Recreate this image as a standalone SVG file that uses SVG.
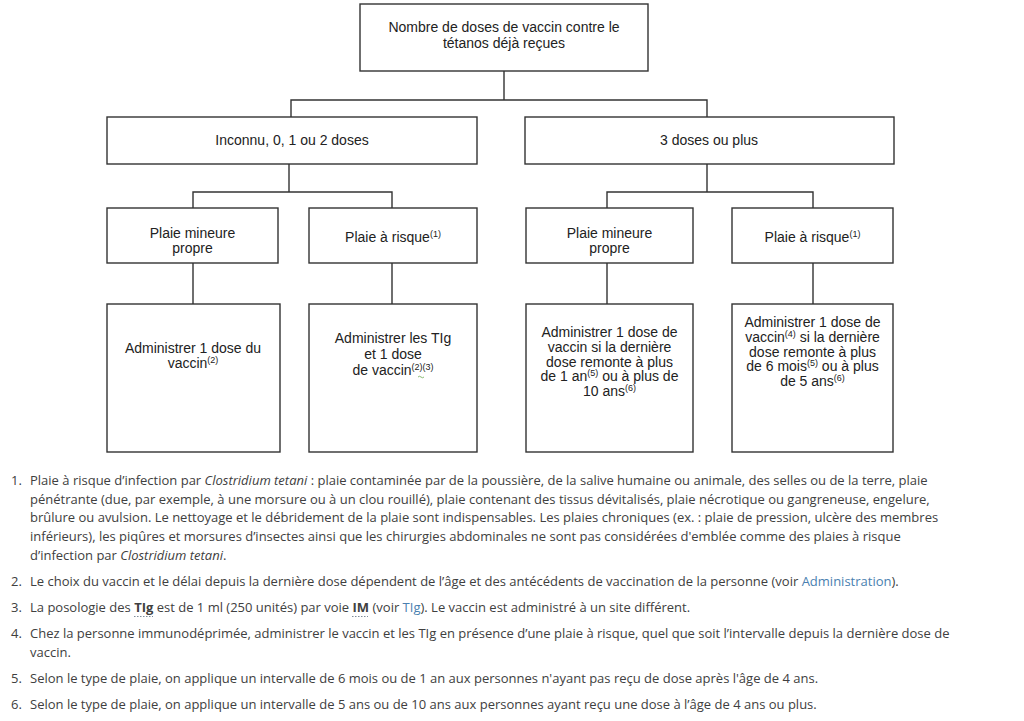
<svg xmlns="http://www.w3.org/2000/svg" width="1024" height="721" viewBox="0 0 1024 721">
<style>
.box{fill:#fff;stroke:#333;stroke-width:1.4}
.con{fill:none;stroke:#333;stroke-width:1.4}
.t{font-family:"Liberation Sans",Arial,sans-serif;font-size:14px;fill:#222;text-anchor:middle}
.sup{font-size:9px}
.fn{font-family:"Open Sans","Noto Sans",sans-serif;font-size:13px;fill:#404040}
.lk{fill:#4a7fb0}
.b{font-weight:bold}
.abbr{stroke:#7f8c99;stroke-width:1;stroke-dasharray:1.5 1.5}
</style>
<rect width="1024" height="721" fill="#fff"/>
<g id="connectors">
<path class="con" d="M504 71V100M291 117V100H707V117"/>
<path class="con" d="M289 164V192M193 208V192H392V208"/>
<path class="con" d="M707 164V192M607 208V192H813V208"/>
<path class="con" d="M193 263V304M392 263V304M607 263V304M813 263V304"/>
</g>
<g id="n-root"><rect class="box" x="360" y="4" width="288" height="67"/>
<text class="t" x="504" y="32">Nombre de doses de vaccin contre le</text>
<text class="t" x="504" y="48">tétanos déjà reçues</text></g>
<g id="n-inconnu"><rect class="box" x="107" y="117" width="370" height="47"/>
<text class="t" x="292" y="145">Inconnu, 0, 1 ou 2 doses</text></g>
<g id="n-3doses"><rect class="box" x="525" y="117" width="369" height="47"/>
<text class="t" x="709" y="145">3 doses ou plus</text></g>
<g id="n-mineure1"><rect class="box" x="107" y="208" width="171" height="55"/>
<text class="t" x="192.5" y="238">Plaie mineure</text>
<text class="t" x="192.5" y="253">propre</text></g>
<g id="n-risque1"><rect class="box" x="309" y="208" width="168" height="55"/>
<text class="t" x="393" y="242">Plaie à risque<tspan class="sup" dy="-5">(1)</tspan></text></g>
<g id="n-mineure2"><rect class="box" x="526" y="208" width="167" height="55"/>
<text class="t" x="609.5" y="238">Plaie mineure</text>
<text class="t" x="609.5" y="253">propre</text></g>
<g id="n-risque2"><rect class="box" x="732" y="208" width="161" height="55"/>
<text class="t" x="812.5" y="242">Plaie à risque<tspan class="sup" dy="-5">(1)</tspan></text></g>
<g id="n-act1"><rect class="box" x="107" y="304" width="173" height="148"/>
<text class="t" x="193" y="353">Administrer 1 dose du</text>
<text class="t" x="193" y="368">vaccin<tspan class="sup" dy="-5">(2)</tspan></text></g>
<g id="n-act2"><rect class="box" x="309" y="304" width="168" height="148"/>
<text class="t" x="393" y="343">Administrer les TIg</text>
<text class="t" x="393" y="359">et 1 dose</text>
<text class="t" x="393" y="375">de vaccin<tspan class="sup" dy="-5">(2)(3)</tspan></text>
<path d="M418 377q1.5 -1.5 3 0t3 0" fill="none" stroke="#6aa84f" stroke-width="0.8"/></g>
<g id="n-act3"><rect class="box" x="526" y="304" width="167" height="148"/>
<text class="t" x="609.5" y="337">Administrer 1 dose de</text>
<text class="t" x="609.5" y="352">vaccin si la dernière</text>
<text class="t" x="609.5" y="367">dose remonte à plus</text>
<text class="t" x="609.5" y="381">de 1 an<tspan class="sup" dy="-5">(5)</tspan><tspan dy="5"> ou à plus de</tspan></text>
<text class="t" x="609.5" y="396">10 ans<tspan class="sup" dy="-5">(6)</tspan></text></g>
<g id="n-act4"><rect class="box" x="732" y="304" width="161" height="148"/>
<text class="t" x="812.5" y="327">Administrer 1 dose de</text>
<text class="t" x="812.5" y="342">vaccin<tspan class="sup" dy="-5">(4)</tspan><tspan dy="5"> si la dernière</tspan></text>
<text class="t" x="812.5" y="357">dose remonte à plus</text>
<text class="t" x="812.5" y="371">de 6 mois<tspan class="sup" dy="-5">(5)</tspan><tspan dy="5"> ou à plus</tspan></text>
<text class="t" x="812.5" y="386">de 5 ans<tspan class="sup" dy="-5">(6)</tspan></text></g>
<g id="footnotes">
<text class="fn" x="11" y="485">1.</text>
<text class="fn" x="30" y="485">Plaie à risque d’infection par <tspan font-style="italic">Clostridium tetani</tspan> : plaie contaminée par de la poussière, de la salive humaine ou animale, des selles ou de la terre, plaie</text>
<text class="fn" x="30" y="504">pénétrante (due, par exemple, à une morsure ou à un clou rouillé), plaie contenant des tissus dévitalisés, plaie nécrotique ou gangreneuse, engelure,</text>
<text class="fn" x="30" y="522">brûlure ou avulsion. Le nettoyage et le débridement de la plaie sont indispensables. Les plaies chroniques (ex. : plaie de pression, ulcère des membres</text>
<text class="fn" x="30" y="541">inférieurs), les piqûres et morsures d’insectes ainsi que les chirurgies abdominales ne sont pas considérées d'emblée comme des plaies à risque</text>
<text class="fn" x="30" y="560">d’infection par <tspan font-style="italic">Clostridium tetani</tspan>.</text>
<text class="fn" x="11" y="586">2.</text>
<text class="fn" x="30" y="586">Le choix du vaccin et le délai depuis la dernière dose dépendent de l’âge et des antécédents de vaccination de la personne (voir <tspan class="lk">Administration</tspan>).</text>
<text class="fn" x="11" y="612">3.</text>
<text class="fn" x="30" y="612">La posologie des <tspan class="b">TIg</tspan> est de 1 ml (250 unités) par voie <tspan class="b">IM</tspan> (voir <tspan class="lk">TIg</tspan>). Le vaccin est administré à un site différent.</text>
<path class="abbr" d="M134 616.5H153M352 616.5H368"/>
<text class="fn" x="11" y="638">4.</text>
<text class="fn" x="30" y="638">Chez la personne immunodéprimée, administrer le vaccin et les TIg en présence d’une plaie à risque, quel que soit l’intervalle depuis la dernière dose de</text>
<text class="fn" x="30" y="657">vaccin.</text>
<text class="fn" x="11" y="683">5.</text>
<text class="fn" x="30" y="683">Selon le type de plaie, on applique un intervalle de 6 mois ou de 1 an aux personnes n'ayant pas reçu de dose après l'âge de 4 ans.</text>
<text class="fn" x="11" y="709">6.</text>
<text class="fn" x="30" y="709">Selon le type de plaie, on applique un intervalle de 5 ans ou de 10 ans aux personnes ayant reçu une dose à l’âge de 4 ans ou plus.</text>
</g>
</svg>
